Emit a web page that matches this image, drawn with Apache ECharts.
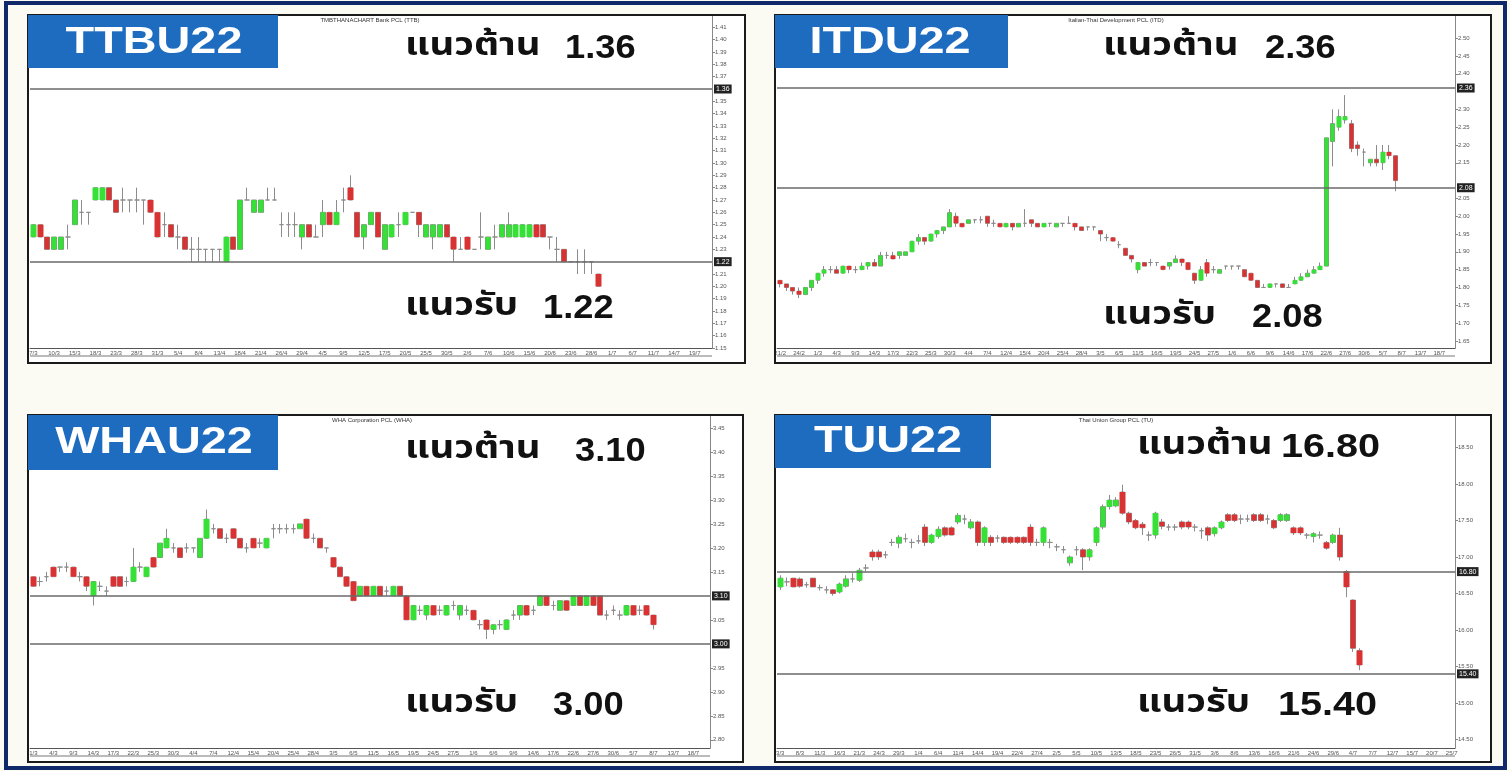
<!DOCTYPE html>
<html>
<head>
<meta charset="utf-8">
<script src="https://cdn.jsdelivr.net/npm/echarts@6/dist/echarts.min.js"></script>
<style>
html, body { margin: 0; padding: 0; background: #fbfbf3; }
#main { width: 1510px; height: 771px; }
</style>
</head>
<body>
<div id="main"></div>
<script>
// candles are [open, close, low, high]
var ttbData = [
	[1.24,1.25,1.24,1.25],[1.25,1.24,1.24,1.25],[1.24,1.23,1.23,1.24],[1.23,1.24,1.23,1.24],[1.23,1.24,1.23,1.24],
	[1.24,1.24,1.23,1.25],[1.25,1.27,1.25,1.27],[1.26,1.26,1.25,1.27],[1.26,1.26,1.25,1.26],[1.27,1.28,1.27,1.28],
	[1.27,1.28,1.27,1.28],[1.28,1.27,1.27,1.28],[1.27,1.26,1.26,1.27],[1.27,1.27,1.26,1.28],[1.27,1.27,1.26,1.27],
	[1.27,1.27,1.26,1.28],[1.27,1.27,1.25,1.27],[1.27,1.26,1.26,1.27],[1.26,1.24,1.24,1.26],[1.25,1.25,1.24,1.26],
	[1.25,1.24,1.24,1.25],[1.24,1.24,1.23,1.25],[1.24,1.23,1.23,1.24],[1.23,1.23,1.22,1.24],[1.23,1.23,1.22,1.24],
	[1.23,1.23,1.22,1.23],[1.23,1.23,1.22,1.23],[1.23,1.23,1.22,1.23],[1.22,1.24,1.22,1.24],[1.24,1.23,1.23,1.24],
	[1.23,1.27,1.23,1.27],[1.27,1.27,1.27,1.28],[1.26,1.27,1.26,1.27],[1.26,1.27,1.26,1.27],[1.27,1.27,1.27,1.28],
	[1.27,1.27,1.27,1.28],[1.25,1.25,1.24,1.26],[1.25,1.25,1.24,1.26],[1.25,1.25,1.24,1.26],[1.24,1.25,1.23,1.25],
	[1.25,1.24,1.24,1.25],[1.24,1.24,1.24,1.25],[1.25,1.26,1.24,1.27],[1.26,1.25,1.25,1.26],[1.25,1.26,1.25,1.27],
	[1.27,1.27,1.26,1.28],[1.28,1.27,1.27,1.29],[1.26,1.24,1.24,1.26],[1.24,1.25,1.23,1.25],[1.25,1.26,1.25,1.26],
	[1.26,1.24,1.24,1.26],[1.23,1.25,1.23,1.25],[1.24,1.25,1.24,1.25],[1.25,1.25,1.24,1.26],[1.25,1.26,1.25,1.26],
	[1.26,1.26,1.26,1.26],[1.26,1.25,1.24,1.26],[1.24,1.25,1.24,1.25],[1.24,1.25,1.23,1.25],[1.24,1.25,1.24,1.25],
	[1.25,1.24,1.24,1.25],[1.24,1.23,1.22,1.24],[1.23,1.23,1.23,1.24],[1.24,1.23,1.23,1.24],[1.23,1.23,1.23,1.23],
	[1.24,1.24,1.23,1.26],[1.23,1.24,1.23,1.24],[1.24,1.24,1.23,1.25],[1.24,1.25,1.24,1.25],[1.24,1.25,1.24,1.26],
	[1.24,1.25,1.24,1.25],[1.24,1.25,1.24,1.25],[1.24,1.25,1.24,1.25],[1.25,1.24,1.24,1.25],[1.25,1.24,1.24,1.25],
	[1.24,1.24,1.23,1.24],[1.23,1.23,1.22,1.24],[1.23,1.22,1.22,1.23],[1.22,1.22,1.22,1.22],[1.22,1.22,1.21,1.23],
	[1.22,1.22,1.21,1.23],[1.22,1.22,1.21,1.22],[1.21,1.20,1.20,1.21]
];

var itdData = [
	[1.82,1.81,1.80,1.82],[1.81,1.80,1.79,1.81],[1.80,1.79,1.78,1.80],[1.79,1.78,1.77,1.80],[1.78,1.80,1.78,1.80],
	[1.80,1.82,1.79,1.82],[1.82,1.84,1.81,1.84],[1.84,1.85,1.83,1.86],[1.85,1.85,1.84,1.86],[1.85,1.84,1.84,1.86],
	[1.84,1.86,1.84,1.86],[1.86,1.85,1.84,1.86],[1.85,1.85,1.84,1.86],[1.85,1.86,1.85,1.87],[1.86,1.87,1.85,1.87],
	[1.87,1.86,1.86,1.88],[1.86,1.89,1.86,1.90],[1.89,1.89,1.88,1.90],[1.89,1.88,1.88,1.90],[1.89,1.90,1.88,1.90],
	[1.89,1.90,1.89,1.90],[1.90,1.93,1.90,1.93],[1.93,1.94,1.92,1.95],[1.94,1.93,1.92,1.94],[1.93,1.95,1.93,1.95],
	[1.95,1.96,1.94,1.96],[1.96,1.97,1.95,1.97],[1.97,2.01,1.97,2.02],[2.00,1.98,1.97,2.01],[1.98,1.97,1.97,1.98],
	[1.98,1.99,1.98,1.99],[1.99,1.99,1.98,1.99],[1.99,1.99,1.98,2.00],[2.00,1.98,1.97,2.00],[1.98,1.98,1.97,1.99],
	[1.98,1.97,1.97,1.98],[1.97,1.98,1.97,1.98],[1.98,1.97,1.96,1.98],[1.97,1.98,1.97,1.98],[1.98,1.98,1.97,2.02],
	[1.99,1.98,1.97,1.99],[1.98,1.97,1.97,1.98],[1.97,1.98,1.97,1.98],[1.98,1.98,1.97,1.98],[1.97,1.98,1.97,1.98],
	[1.98,1.98,1.97,1.98],[1.98,1.98,1.98,2.00],[1.98,1.97,1.96,1.98],[1.97,1.96,1.96,1.97],[1.97,1.97,1.96,1.97],
	[1.97,1.97,1.96,1.97],[1.96,1.95,1.93,1.96],[1.94,1.94,1.93,1.95],[1.94,1.93,1.93,1.94],[1.92,1.92,1.91,1.93],
	[1.91,1.89,1.89,1.91],[1.89,1.88,1.87,1.89],[1.85,1.87,1.84,1.87],[1.87,1.86,1.86,1.87],[1.87,1.87,1.86,1.88],
	[1.87,1.87,1.86,1.87],[1.86,1.85,1.85,1.86],[1.86,1.87,1.85,1.87],[1.87,1.88,1.87,1.89],[1.88,1.87,1.86,1.88],
	[1.87,1.85,1.85,1.87],[1.84,1.82,1.81,1.84],[1.82,1.85,1.82,1.86],[1.87,1.84,1.83,1.88],[1.85,1.85,1.84,1.86],
	[1.84,1.85,1.84,1.85],[1.86,1.86,1.85,1.86],[1.86,1.86,1.85,1.86],[1.86,1.86,1.85,1.86],[1.85,1.83,1.83,1.85],
	[1.84,1.82,1.82,1.84],[1.82,1.80,1.80,1.82],[1.80,1.80,1.80,1.81],[1.80,1.81,1.80,1.81],[1.81,1.81,1.80,1.81],
	[1.81,1.80,1.80,1.81],[1.80,1.80,1.80,1.81],[1.81,1.82,1.81,1.83],[1.82,1.83,1.82,1.84],[1.83,1.84,1.83,1.85],
	[1.84,1.85,1.84,1.86],[1.85,1.86,1.85,1.87],[1.86,2.22,1.86,2.22],[2.21,2.26,2.14,2.30],[2.25,2.28,2.24,2.30],
	[2.27,2.28,2.26,2.34],[2.26,2.19,2.18,2.27],[2.20,2.19,2.17,2.21],[2.18,2.18,2.14,2.19],[2.15,2.16,2.14,2.16],
	[2.16,2.15,2.14,2.20],[2.15,2.18,2.13,2.20],[2.18,2.17,2.16,2.20],[2.17,2.10,2.07,2.17]
];

var whaData = [
	[3.14,3.12,3.12,3.14],[3.13,3.13,3.12,3.14],[3.14,3.14,3.13,3.15],[3.16,3.14,3.14,3.16],[3.16,3.16,3.15,3.16],
	[3.16,3.16,3.15,3.17],[3.16,3.14,3.14,3.16],[3.14,3.14,3.13,3.15],[3.14,3.12,3.11,3.14],[3.10,3.13,3.08,3.13],
	[3.12,3.12,3.11,3.13],[3.11,3.11,3.10,3.12],[3.14,3.12,3.12,3.14],[3.14,3.12,3.12,3.14],[3.13,3.13,3.12,3.14],
	[3.13,3.16,3.13,3.20],[3.16,3.16,3.15,3.17],[3.14,3.16,3.14,3.16],[3.18,3.16,3.16,3.18],[3.18,3.21,3.18,3.21],
	[3.20,3.22,3.20,3.24],[3.20,3.20,3.19,3.21],[3.20,3.18,3.18,3.20],[3.20,3.20,3.19,3.21],[3.20,3.20,3.19,3.20],
	[3.18,3.22,3.18,3.22],[3.22,3.26,3.22,3.28],[3.24,3.24,3.23,3.25],[3.24,3.22,3.22,3.24],[3.22,3.22,3.21,3.23],
	[3.24,3.22,3.22,3.24],[3.22,3.20,3.20,3.22],[3.20,3.20,3.19,3.21],[3.22,3.20,3.20,3.22],[3.21,3.21,3.20,3.22],
	[3.20,3.22,3.20,3.22],[3.24,3.24,3.22,3.25],[3.24,3.24,3.23,3.25],[3.24,3.24,3.23,3.25],[3.24,3.24,3.23,3.25],
	[3.24,3.25,3.24,3.25],[3.26,3.22,3.22,3.26],[3.22,3.22,3.21,3.23],[3.22,3.20,3.20,3.22],[3.20,3.20,3.19,3.20],
	[3.18,3.16,3.16,3.18],[3.16,3.14,3.14,3.16],[3.14,3.12,3.12,3.14],[3.13,3.09,3.09,3.13],[3.10,3.12,3.10,3.12],
	[3.12,3.10,3.10,3.12],[3.10,3.12,3.10,3.12],[3.12,3.10,3.10,3.12],[3.11,3.11,3.10,3.12],[3.10,3.12,3.10,3.12],
	[3.12,3.10,3.10,3.12],[3.10,3.05,3.05,3.10],[3.05,3.08,3.05,3.08],[3.07,3.07,3.06,3.08],[3.06,3.08,3.05,3.08],
	[3.08,3.06,3.06,3.08],[3.07,3.07,3.06,3.08],[3.06,3.08,3.06,3.08],[3.08,3.08,3.07,3.09],[3.06,3.08,3.05,3.08],
	[3.07,3.07,3.06,3.08],[3.07,3.05,3.05,3.07],[3.04,3.04,3.03,3.05],[3.05,3.03,3.01,3.05],[3.03,3.04,3.02,3.04],
	[3.04,3.04,3.03,3.05],[3.03,3.05,3.03,3.05],[3.06,3.06,3.05,3.07],[3.06,3.08,3.05,3.08],[3.08,3.06,3.06,3.08],
	[3.07,3.07,3.06,3.08],[3.08,3.10,3.08,3.10],[3.10,3.08,3.08,3.10],[3.08,3.08,3.07,3.09],[3.07,3.09,3.07,3.09],
	[3.09,3.07,3.07,3.09],[3.08,3.10,3.08,3.10],[3.10,3.08,3.08,3.10],[3.08,3.10,3.08,3.10],[3.10,3.08,3.08,3.10],
	[3.10,3.06,3.06,3.10],[3.06,3.06,3.05,3.07],[3.07,3.07,3.06,3.08],[3.06,3.06,3.05,3.07],[3.06,3.08,3.06,3.08],
	[3.08,3.06,3.06,3.08],[3.07,3.07,3.06,3.08],[3.08,3.06,3.06,3.08],[3.06,3.04,3.03,3.06]
];

var tuData = [
	[16.59,16.71,16.55,16.75],[16.66,16.66,16.60,16.72],[16.71,16.59,16.59,16.71],[16.70,16.60,16.58,16.72],[16.62,16.62,16.58,16.66],
	[16.71,16.59,16.59,16.71],[16.58,16.58,16.54,16.62],[16.55,16.55,16.50,16.60],[16.55,16.50,16.47,16.56],[16.52,16.63,16.50,16.65],
	[16.60,16.70,16.58,16.75],[16.70,16.70,16.65,16.78],[16.68,16.82,16.66,16.85],[16.85,16.85,16.80,16.90],[17.07,17.00,16.95,17.10],
	[17.07,17.00,16.96,17.10],[17.03,17.03,16.98,17.08],[17.20,17.20,17.15,17.25],[17.19,17.27,17.12,17.30],[17.25,17.25,17.20,17.32],
	[17.20,17.20,17.12,17.25],[17.22,17.22,17.18,17.30],[17.41,17.20,17.15,17.45],[17.20,17.30,17.18,17.32],[17.28,17.38,17.25,17.42],
	[17.40,17.30,17.28,17.42],[17.40,17.30,17.30,17.42],[17.48,17.57,17.45,17.60],[17.52,17.52,17.45,17.58],[17.40,17.48,17.38,17.52],
	[17.48,17.20,17.15,17.50],[17.20,17.40,17.15,17.42],[17.27,17.20,17.15,17.30],[17.26,17.26,17.20,17.30],[17.27,17.20,17.18,17.28],
	[17.27,17.20,17.18,17.28],[17.27,17.20,17.18,17.28],[17.27,17.20,17.18,17.28],[17.41,17.20,17.15,17.45],[17.20,17.20,17.15,17.25],
	[17.20,17.40,17.15,17.42],[17.20,17.20,17.12,17.25],[17.14,17.14,17.08,17.18],[17.10,17.10,17.05,17.15],[16.92,17.00,16.88,17.02],
	[17.10,17.10,17.02,17.15],[17.10,17.00,16.82,17.12],[17.00,17.10,16.95,17.12],[17.20,17.40,17.15,17.42],[17.41,17.69,17.38,17.72],
	[17.69,17.78,17.65,17.85],[17.70,17.78,17.68,17.82],[17.89,17.60,17.58,17.99],[17.60,17.48,17.45,17.62],[17.50,17.40,17.38,17.52],
	[17.45,17.40,17.30,17.48],[17.30,17.30,17.22,17.35],[17.30,17.60,17.25,17.62],[17.48,17.42,17.38,17.52],[17.41,17.41,17.36,17.45],
	[17.41,17.41,17.36,17.45],[17.48,17.41,17.38,17.50],[17.48,17.41,17.38,17.50],[17.41,17.41,17.35,17.45],[17.36,17.36,17.25,17.40],
	[17.40,17.30,17.22,17.42],[17.32,17.40,17.28,17.42],[17.40,17.48,17.38,17.50],[17.58,17.50,17.48,17.60],[17.58,17.50,17.48,17.60],
	[17.52,17.52,17.45,17.58],[17.52,17.52,17.48,17.58],[17.58,17.50,17.48,17.60],[17.58,17.50,17.48,17.60],[17.52,17.52,17.45,17.58],
	[17.50,17.40,17.38,17.52],[17.50,17.58,17.48,17.60],[17.50,17.58,17.48,17.60],[17.40,17.33,17.30,17.42],[17.40,17.33,17.30,17.42],
	[17.30,17.30,17.25,17.33],[17.28,17.32,17.20,17.34],[17.30,17.30,17.25,17.35],[17.20,17.12,17.10,17.22],[17.20,17.30,17.18,17.32],
	[17.30,17.00,16.95,17.40],[16.80,16.59,16.45,16.82],[16.41,15.75,15.70,16.42],[15.72,15.52,15.45,15.75]
];

// price scale labels on the right axis
var ttbTicks = [1.15,1.16,1.17,1.18,1.19,1.20,1.21,1.23,1.24,1.25,1.26,1.27,1.28,1.29,1.30,1.31,1.32,1.33,1.34,1.35,1.37,1.38,1.39,1.40,1.41];
var itdTicks = [1.65,1.70,1.75,1.80,1.85,1.90,1.95,2.00,2.05,2.15,2.20,2.25,2.30,2.40,2.45,2.50];
var whaTicks = [2.80,2.85,2.90,2.95,3.05,3.15,3.20,3.25,3.30,3.35,3.40,3.45];
var tuTicks = [14.50,15.00,15.50,16.00,16.50,17.00,17.50,18.00,18.50];

// resistance / support levels
var ttbLevels = [1.36, 1.22];
var itdLevels = [2.36, 2.08];
var whaLevels = [3.10, 3.00];
var tuLevels = [16.80, 15.40];

function tradingDays(start, n) {
	var d = new Date(start + "T00:00:00Z");
	var out = [];
	while (out.length < n) {
		var wd = d.getUTCDay();
		if (wd !== 0 && wd !== 6) {
			out.push(d.getUTCDate() + "/" + (d.getUTCMonth() + 1));
		}
		d.setUTCDate(d.getUTCDate() + 1);
	}
	return out;
}

var panels = [
	{
		code: "TTBU22", company: "TMBTHANACHART Bank PCL (TTB)",
		data: ttbData, ticks: ttbTicks, levels: ttbLevels, dates: tradingDays("2022-03-07", 99),
		min: 1.15, max: 1.42,
		box: [28, 15, 717, 348], grid: [30, 15, 682, 333], titleBox: [28, 15, 250, 53], title: [154, 43],
		company_xy: [370, 20], res: [405, 49, 565], sup: [405, 309, 543], numScale: 1.1, barW: 5
	},
	{
		code: "ITDU22", company: "Italian-Thai Development PCL (ITD)",
		data: itdData, ticks: itdTicks, levels: itdLevels, dates: tradingDays("2022-02-21", 108),
		min: 1.63, max: 2.565,
		box: [775, 15, 716, 348], grid: [777, 15, 678, 333], titleBox: [775, 15, 233, 53], title: [890, 43],
		company_xy: [1116, 20], res: [1103, 49, 1265], sup: [1103, 318, 1252], numScale: 1.1, barW: 4
	},
	{
		code: "WHAU22", company: "WHA Corporation PCL (WHA)",
		data: whaData, ticks: whaTicks, levels: whaLevels, dates: tradingDays("2022-03-01", 102),
		min: 2.783, max: 3.477,
		box: [28, 415, 715, 347], grid: [30, 415, 680, 333], titleBox: [28, 415, 250, 55], title: [154, 443],
		company_xy: [372, 420], res: [405, 452, 575], sup: [405, 706, 553], numScale: 1.1, barW: 5
	},
	{
		code: "TUU22", company: "Thai Union Group PCL (TU)",
		data: tuData, ticks: tuTicks, levels: tuLevels, dates: tradingDays("2022-03-03", 103),
		min: 14.384, max: 18.945,
		box: [775, 415, 716, 347], grid: [777, 415, 678, 333], titleBox: [775, 415, 216, 53], title: [888, 442],
		company_xy: [1116, 420], res: [1137, 448, 1281], sup: [1137, 706, 1278], numScale: 1.2, barW: 5
	}
];

var thaiFont = "'Noto Sans Thai', 'Noto Sans', 'DejaVu Sans', sans-serif";
var numFont = "bold 33px 'Liberation Sans', Arial, sans-serif";

var option = {
	backgroundColor: "#fbfbf3",
	animation: false,
	grid: [],
	xAxis: [],
	yAxis: [],
	series: [],
	graphic: [
		{
			type: "rect", z: 20,
			shape: { x: 6, y: 3, width: 1499, height: 765 },
			style: { fill: "none", stroke: "#10296b", lineWidth: 4 }
		}
	]
};

panels.forEach(function (p, i) {
	option.grid.push({ left: p.grid[0], top: p.grid[1], width: p.grid[2], height: p.grid[3] });

	option.xAxis.push({
		type: "category", gridIndex: i, data: p.dates, boundaryGap: true,
		axisLine: { lineStyle: { color: "#555", width: 1 } },
		axisTick: { interval: 2, length: 3, lineStyle: { color: "#777" } },
		axisLabel: { interval: 2, fontSize: 6, color: "#555", margin: 2 },
		splitLine: { show: false }
	});

	option.yAxis.push({
		type: "value", gridIndex: i, position: "right", min: p.min, max: p.max,
		splitLine: { show: false },
		axisLine: { show: true, lineStyle: { color: "#888" } },
		axisTick: { show: true, customValues: p.ticks, length: 3, lineStyle: { color: "#888" } },
		axisLabel: {
			customValues: p.ticks, fontSize: 6, color: "#555", margin: 3,
			formatter: function (v) { return v.toFixed(2); }
		}
	});

	// wicks and doji crosses in grey
	option.series.push({
		type: "candlestick", xAxisIndex: i, yAxisIndex: i, data: p.data,
		barWidth: p.barW, silent: true, z: 2,
		itemStyle: {
			color: "#ffffff", color0: "#ffffff",
			borderColor: "#8c8c8c", borderColor0: "#8c8c8c", borderColorDoji: "#8c8c8c", borderWidth: 1
		},
		markLine: {
			silent: true, symbol: ["none", "none"],
			lineStyle: { color: "#6a6a6a", width: 1.5, type: "solid" },
			label: {
				position: "end", distance: 2, fontSize: 7, color: "#fff",
				backgroundColor: "#222", padding: [1, 2],
				formatter: function (prm) { return Number(prm.value).toFixed(2); }
			},
			data: [{ yAxis: p.levels[0] }, { yAxis: p.levels[1] }]
		}
	});

	// coloured bodies on top
	option.series.push({
		type: "candlestick", xAxisIndex: i, yAxisIndex: i, data: p.data,
		barWidth: p.barW + 1, silent: true, z: 3,
		itemStyle: { color: "#36e036", color0: "#d83232", borderWidth: 0 }
	});

	var b = p.box;
	option.graphic.push(
		{
			type: "rect", z: -1,
			shape: { x: b[0], y: b[1], width: b[2], height: b[3] },
			style: { fill: "#ffffff" }
		},
		{
			type: "rect", z: 15,
			shape: { x: b[0], y: b[1], width: b[2], height: b[3] },
			style: { fill: "none", stroke: "#1a1a1a", lineWidth: 2 }
		},
		{
			type: "line", z: 5,
			shape: { x1: p.grid[0], y1: p.grid[1] + p.grid[3] + 8, x2: p.grid[0] + p.grid[2], y2: p.grid[1] + p.grid[3] + 8 },
			style: { stroke: "#777", lineWidth: 1 }
		},
		{
			type: "rect", z: 16,
			shape: { x: p.titleBox[0], y: p.titleBox[1], width: p.titleBox[2], height: p.titleBox[3] },
			style: { fill: "#1d6cc0" }
		},
		{
			type: "text", z: 17, x: p.title[0], y: p.title[1], scaleX: 1.3,
			style: {
				text: p.code, fill: "#ffffff", font: "bold 36px 'Liberation Sans', Arial, sans-serif",
				textAlign: "center", textVerticalAlign: "middle"
			}
		},
		{
			type: "text", z: 17, x: p.company_xy[0], y: p.company_xy[1],
			style: {
				text: p.company, fill: "#333", font: "6px 'Liberation Sans', Arial, sans-serif",
				textAlign: "center", textVerticalAlign: "middle"
			}
		},
		{
			type: "text", z: 17, x: p.res[0], y: p.res[1], scaleX: 1.2,
			style: { text: "แนวต้าน", fill: "#111", font: "bold 32px " + thaiFont, textAlign: "left", textVerticalAlign: "middle" }
		},
		{
			type: "text", z: 17, x: p.res[2], y: p.res[1], scaleX: p.numScale,
			style: { text: p.levels[0].toFixed(2), fill: "#111", font: numFont, textAlign: "left", textVerticalAlign: "middle" }
		},
		{
			type: "text", z: 17, x: p.sup[0], y: p.sup[1], scaleX: 1.2,
			style: { text: "แนวรับ", fill: "#111", font: "bold 32px " + thaiFont, textAlign: "left", textVerticalAlign: "middle" }
		},
		{
			type: "text", z: 17, x: p.sup[2], y: p.sup[1], scaleX: p.numScale,
			style: { text: p.levels[1].toFixed(2), fill: "#111", font: numFont, textAlign: "left", textVerticalAlign: "middle" }
		}
	);
});

var chart = echarts.init(document.getElementById("main"));
chart.setOption(option);
</script>
</body>
</html>
